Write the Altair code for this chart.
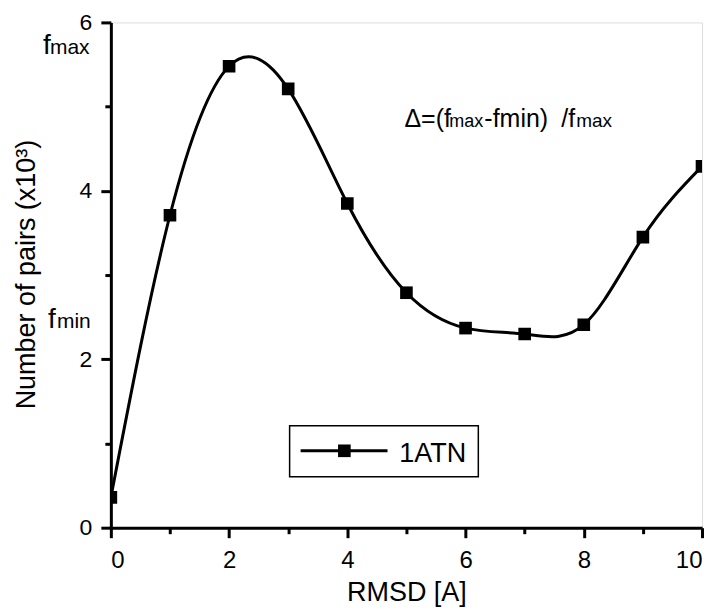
import altair as alt
import pandas as pd

rmsd = [0, 1, 2, 3, 4, 5, 6, 7, 8, 9, 10]
pairs = [0.36, 3.71, 5.48, 5.21, 3.85, 2.79, 2.37, 2.30, 2.41, 3.45, 4.29]
series_name = "1ATN"

x_major = [0, 2, 4, 6, 8, 10]
x_minor = [1, 3, 5, 7, 9]
y_major = [0, 2, 4, 6]
y_minor = [1, 3, 5]

# annotation text pieces (main text + smaller "subscript" parts)
ann_text = ["f", "max", "f", "min", "Δ=(f", "max", "-fmin)", "/f", "max"]
ann_x = [-1.149, -1.03, -1.064, -0.912, 4.966, 5.726, 6.318, 7.618, 7.872]
ann_y = [5.62, 5.62, 2.372, 2.372, 4.755, 4.755, 4.755, 4.755, 4.755]
ann_size = [28, 21, 28, 21, 25, 18, 25, 25, 19]

FONT = "Liberation Sans"

df = pd.DataFrame({"x": rmsd, "y": pairs})
ann = pd.DataFrame({"x": ann_x, "y": ann_y, "t": ann_text, "s": ann_size})

xs = alt.Scale(domain=[0, 10], nice=False, zero=False)
ys = alt.Scale(domain=[0, 6], nice=False, zero=False)

xaxis = alt.Axis(
    orient="bottom", values=x_major, tickSize=10,
    tickWidth=3, tickColor="black", domainColor="black", domainWidth=3,
    grid=False, labelFont=FONT, labelFontSize=24, labelColor="black",
    labelPadding=11, title="RMSD [A]", titleFont=FONT, titleFontSize=27,
    titleFontWeight="normal", titleColor="black", titleY=73, titleBaseline="alphabetic",
)
yaxis = alt.Axis(
    orient="left", values=y_major, tickSize=10,
    tickWidth=3, tickColor="black", domainColor="black", domainWidth=3,
    grid=False, labelFont=FONT, labelFontSize=23, labelColor="black",
    labelPadding=9, title="Number of pairs (x10³)", titleFont=FONT, titleFontSize=27,
    titleFontWeight="normal", titleColor="black", titleX=-84, titleY=252,
    titleBaseline="middle", titleAlign="center", titleAngle=270,
)
xaxis_minor = alt.Axis(orient="bottom", values=x_minor, tickSize=6, tickWidth=3, tickColor="black",
                       domain=False, labels=False, grid=False, title=None)
yaxis_minor = alt.Axis(orient="left", values=y_minor, tickSize=6, tickWidth=3, tickColor="black",
                       domain=False, labels=False, grid=False, title=None)

X = alt.X("x:Q", scale=xs, axis=xaxis)
Y = alt.Y("y:Q", scale=ys, axis=yaxis)

line = alt.Chart(df).mark_line(interpolate="natural", color="black", strokeWidth=3, clip=True).encode(x=X, y=Y)
pts = alt.Chart(df).mark_square(size=160, color="black", opacity=1, filled=True, clip=True).encode(x=X, y=Y)

texts = alt.Chart(ann).mark_text(align="left", baseline="alphabetic", font=FONT, color="black").encode(
    x=X, y=Y, text="t:N", size=alt.Size("s:Q", scale=None, legend=None)
)

# manual legend
leg_box = pd.DataFrame({"x": [3.024], "x2": [6.216], "y": [1.210], "y2": [0.605]})
leg_line = pd.DataFrame({"x": [3.21], "x2": [4.68], "y": [0.913]})
leg_pt = pd.DataFrame({"x": [3.95], "y": [0.913]})
leg_txt = pd.DataFrame({"x": [4.88], "y": [0.783], "t": [series_name]})

box = alt.Chart(leg_box).mark_rect(fill="white", stroke="black", strokeWidth=1.5).encode(
    x=X, x2="x2:Q", y=Y, y2="y2:Q")
lrule = alt.Chart(leg_line).mark_rule(color="black", strokeWidth=3).encode(x=X, x2="x2:Q", y=Y)
lpt = alt.Chart(leg_pt).mark_square(size=160, color="black", opacity=1, filled=True).encode(x=X, y=Y)
ltxt = alt.Chart(leg_txt).mark_text(align="left", baseline="alphabetic", font=FONT, fontSize=27, color="black").encode(
    x=X, y=Y, text="t:N")

main = alt.layer(line, pts, texts, box, lrule, lpt, ltxt)

minor_df = pd.DataFrame({"x": [0.5], "y": [0.5]})
minor = alt.Chart(minor_df).mark_point(opacity=0).encode(
    x=alt.X("x:Q", scale=xs, axis=xaxis_minor),
    y=alt.Y("y:Q", scale=ys, axis=yaxis_minor),
)

chart = alt.layer(minor, main).resolve_axis(x="independent", y="independent").properties(
    width=592, height=506,
    autosize=alt.AutoSizeParams(type="none"),
    padding={"left": 103, "top": 14, "right": 10, "bottom": 80},
).configure_view(stroke=None).configure(background="white")

chart.save("out.html", embed_options={"renderer": "svg", "actions": False})
